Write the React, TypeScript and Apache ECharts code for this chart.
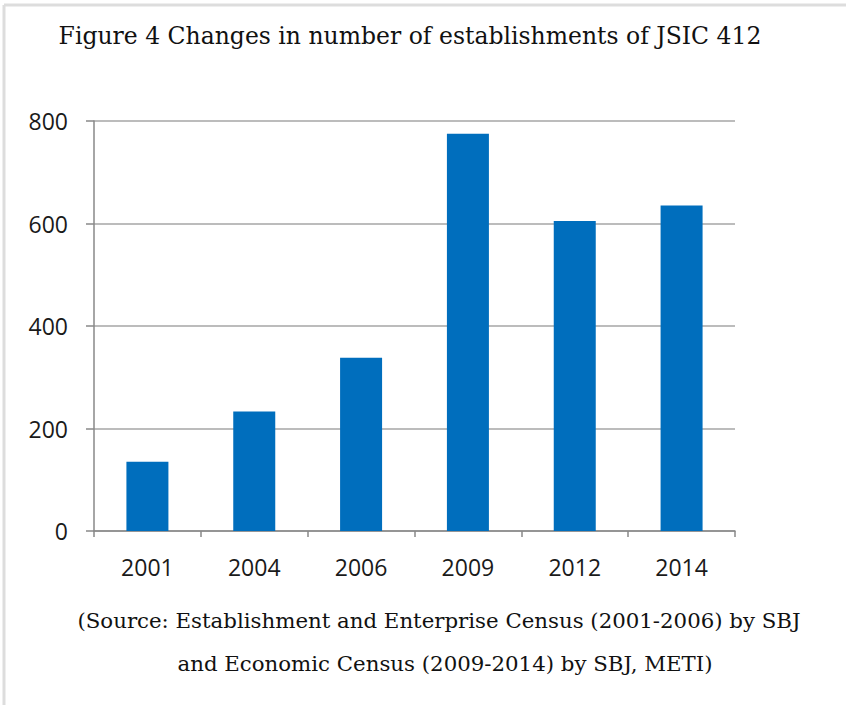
import React, { useEffect, useRef } from "react";
import * as echarts from "echarts";

const categories = ["2001", "2004", "2006", "2009", "2012", "2014"];
const establishments = [135, 233, 338, 775, 605, 635];
const yTicks = { min: 0, max: 800, interval: 200 };
const titleText = "Figure 4 Changes in number of establishments of JSIC 412";
const sourceLines = [
  "(Source: Establishment and Enterprise Census (2001-2006) by SBJ",
  "and Economic Census (2009-2014) by SBJ, METI)",
];

export default function App() {
  const ref = useRef<HTMLDivElement>(null);
  useEffect(() => {
    if (!ref.current) return;
    const chart = echarts.init(ref.current, undefined, { renderer: "svg" });
    const serif = "'DejaVu Serif', serif";
    chart.setOption({
      animation: false,
      backgroundColor: "#ffffff",
      grid: { left: 94, right: 111, top: 121, bottom: 174, containLabel: false },
      xAxis: {
        type: "category",
        data: categories,
        axisLine: { lineStyle: { color: "#888888", width: 1.5 } },
        axisTick: { show: true, length: 6, lineStyle: { color: "#888888", width: 1.5 } },
        axisLabel: {
          color: "#1a1a1a",
          fontFamily: "'Open Sans', sans-serif",
          fontSize: 23,
          margin: 24,
        },
      },
      yAxis: {
        type: "value",
        min: yTicks.min,
        max: yTicks.max,
        interval: yTicks.interval,
        axisLine: { show: true, lineStyle: { color: "#888888", width: 1.5 } },
        axisTick: { show: true, length: 8, lineStyle: { color: "#888888", width: 1.5 } },
        axisLabel: {
          color: "#1a1a1a",
          fontFamily: "'Open Sans', sans-serif",
          fontSize: 23,
          margin: 26,
        },
        splitLine: { show: true, lineStyle: { color: "#a6a6a6", width: 1.5 } },
      },
      series: [
        {
          type: "bar",
          data: establishments,
          barWidth: 42,
          itemStyle: { color: "#006EBD" },
        },
      ],
      graphic: [
        {
          type: "line",
          shape: { x1: 4, y1: 5, x2: 846, y2: 5 },
          style: { stroke: "#dddddd", lineWidth: 3 },
        },
        {
          type: "line",
          shape: { x1: 4, y1: 5, x2: 4, y2: 705 },
          style: { stroke: "#dddddd", lineWidth: 3 },
        },
        {
          type: "text",
          x: 410,
          y: 36,
          style: {
            text: titleText,
            font: `23.5px ${serif}`,
            fill: "#111111",
            align: "center",
            verticalAlign: "middle",
          },
        },
        {
          type: "text",
          x: 439,
          y: 620,
          style: {
            text: sourceLines[0],
            font: `21.3px ${serif}`,
            fill: "#111111",
            align: "center",
            verticalAlign: "middle",
          },
        },
        {
          type: "text",
          x: 445,
          y: 663,
          style: {
            text: sourceLines[1],
            font: `21.3px ${serif}`,
            fill: "#111111",
            align: "center",
            verticalAlign: "middle",
          },
        },
      ],
    });
    return () => chart.dispose();
  }, []);
  return (
    <div
      ref={ref}
      style={{ position: "fixed", left: 0, top: 0, width: 846, height: 705 }}
    />
  );
}
